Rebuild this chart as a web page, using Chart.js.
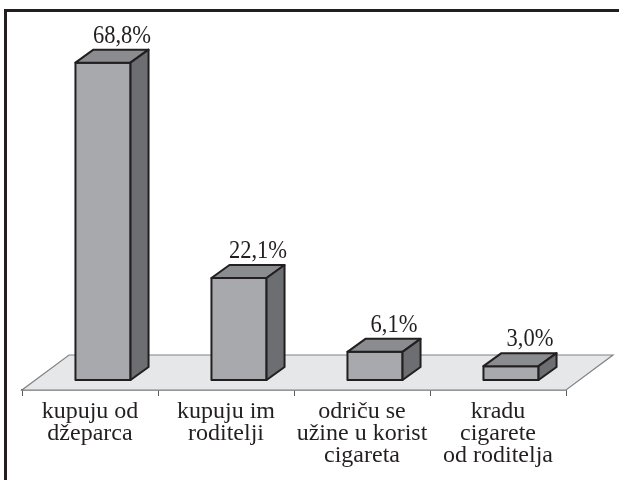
<!DOCTYPE html>
<html>
<head>
<meta charset="utf-8">
<script src="https://cdn.jsdelivr.net/npm/chart.js@4/dist/chart.umd.min.js"></script>
<style>
  body { margin: 0; background: #fff; }
  #wrap { position: relative; width: 619px; height: 480px; overflow: hidden; }
  #frame {
    position: absolute; left: 4px; top: 9px; width: 700px; height: 600px;
    border-top: 3px solid #231f20; border-left: 3px solid #231f20;
  }
  canvas { position: absolute; left: 0; top: 0; }
</style>
</head>
<body>
<div id="wrap">
  <div id="frame"></div>
  <canvas id="chart" width="619" height="480"></canvas>
</div>
<script>
const categories = [
  ["kupuju od", "džeparca"],
  ["kupuju im", "roditelji"],
  ["odriču se", "užine u korist", "cigareta"],
  ["kradu", "cigarete", "od roditelja"]
];
const values = [68.8, 22.1, 6.1, 3.0];

/* ===== 3D look ===== */
const FONT = "'Liberation Serif', 'Times New Roman', serif";
const TEXT = "#231f20";
const OFF = { x: 13, y: -10 };     // bar position inside the floor
const DEPTH = { x: 18, y: -13 };   // box depth
const FLOOR = { x: 47, y: -35 };   // floor depth

const floorPlugin = {
  id: "floor",
  beforeDatasetsDraw(chart) {
    const ctx = chart.ctx;
    const a = chart.chartArea;
    const b = a.bottom;
    ctx.save();
    ctx.beginPath();
    ctx.moveTo(a.left, b);
    ctx.lineTo(a.right, b);
    ctx.lineTo(a.right + FLOOR.x, b + FLOOR.y);
    ctx.lineTo(a.left + FLOOR.x, b + FLOOR.y);
    ctx.closePath();
    ctx.fillStyle = "#e6e7e8";
    ctx.fill();
    ctx.strokeStyle = "#808285";
    ctx.lineWidth = 1.2;
    ctx.stroke();
    ctx.restore();
  }
};

const boxPlugin = {
  id: "boxes",
  afterDatasetsDraw(chart) {
    const ctx = chart.ctx;
    const meta = chart.getDatasetMeta(0);
    ctx.save();
    ctx.lineWidth = 2;
    ctx.lineJoin = "round";
    ctx.strokeStyle = TEXT;
    meta.data.forEach((bar, i) => {
      const p = bar.getProps(["x", "y", "base", "width"], true);
      const l = p.x - p.width / 2 + OFF.x;
      const r = p.x + p.width / 2 + OFF.x;
      const t = p.y + OFF.y;
      const bt = p.base + OFF.y;

      // front
      ctx.fillStyle = "#a7a9ac";
      ctx.beginPath();
      ctx.rect(l, t, r - l, bt - t);
      ctx.fill(); ctx.stroke();
      // top
      ctx.fillStyle = "#8a8c8f";
      ctx.beginPath();
      ctx.moveTo(l, t);
      ctx.lineTo(l + DEPTH.x, t + DEPTH.y);
      ctx.lineTo(r + DEPTH.x, t + DEPTH.y);
      ctx.lineTo(r, t);
      ctx.closePath();
      ctx.fill(); ctx.stroke();
      // side
      ctx.fillStyle = "#6d6e71";
      ctx.beginPath();
      ctx.moveTo(r, t);
      ctx.lineTo(r + DEPTH.x, t + DEPTH.y);
      ctx.lineTo(r + DEPTH.x, bt + DEPTH.y);
      ctx.lineTo(r, bt);
      ctx.closePath();
      ctx.fill(); ctx.stroke();

      // value label (slightly condensed, like the original)
      const txt = values[i].toFixed(1).replace(".", ",") + "%";
      const cx = p.x + OFF.x + DEPTH.x + 1;
      ctx.save();
      ctx.translate(cx, t + DEPTH.y - 7);
      ctx.scale(0.9, 1);
      ctx.fillStyle = TEXT;
      ctx.font = "25px " + FONT;
      ctx.textAlign = "center";
      ctx.textBaseline = "alphabetic";
      ctx.fillText(txt, 0, 0);
      ctx.restore();
    });
    ctx.restore();
  }
};

new Chart(document.getElementById("chart"), {
  type: "bar",
  data: {
    labels: categories,
    datasets: [{
      data: values,
      backgroundColor: "rgba(0,0,0,0)",
      borderWidth: 0,
      categoryPercentage: 1,
      barPercentage: 0.405
    }]
  },
  options: {
    responsive: false,
    animation: false,
    devicePixelRatio: 1,
    layout: { padding: { left: 22, right: 53, top: 21, bottom: 0 } },
    plugins: { legend: { display: false }, tooltip: { enabled: false } },
    scales: {
      x: {
        afterFit(scale) { scale.height = 90; },
        border: { display: true, color: "#58595b", width: 1.5 },
        grid: {
          offset: true,
          drawOnChartArea: false,
          drawTicks: true,
          tickLength: 6,
          tickWidth: 1,
          tickColor: "#58595b"
        },
        ticks: {
          color: TEXT,
          padding: 5,
          maxRotation: 0,
          autoSkip: false,
          font: { family: FONT, size: 24, lineHeight: 0.92 }
        }
      },
      y: {
        display: false,
        min: 0,
        max: 80
      }
    }
  },
  plugins: [floorPlugin, boxPlugin]
});
</script>
</body>
</html>
